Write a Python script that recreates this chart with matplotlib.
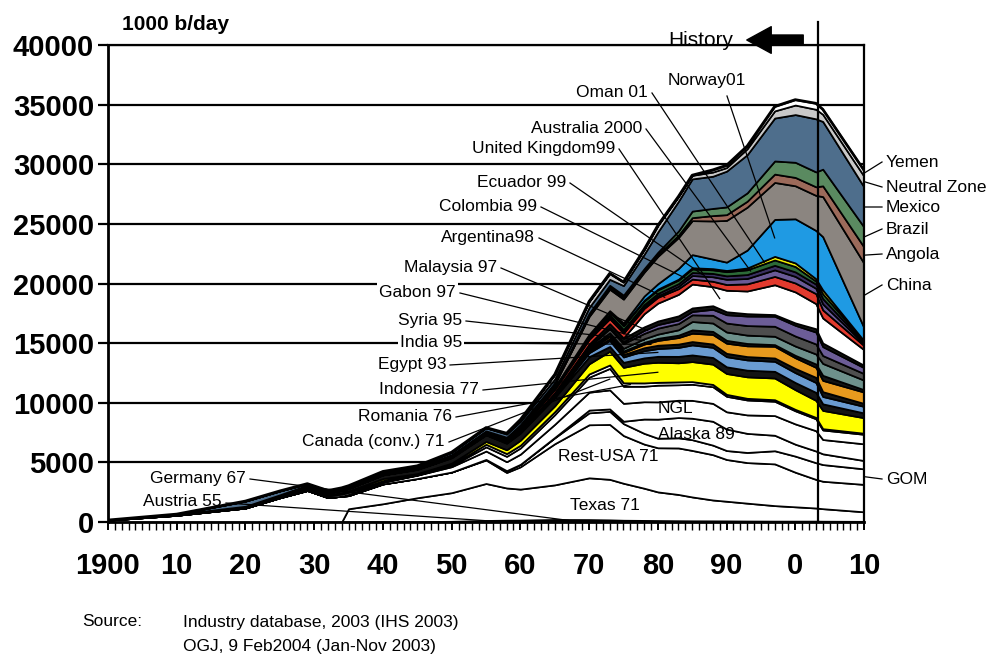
import numpy as np
import matplotlib
matplotlib.use('Agg')
import matplotlib.pyplot as plt

plt.rcParams['font.family'] = ['Liberation Sans', 'DejaVu Sans']

# ---------------- data (1000 b/day) ----------------
years = [1900, 1910, 1920, 1925, 1929, 1932, 1934, 1935, 1940, 1945, 1950, 1955, 1958, 1960,
         1965, 1970, 1973, 1975, 1978, 1980, 1983, 1985, 1988, 1990, 1993, 1997, 2000, 2003,
         2004, 2010]

austria = [0, 0, 0, 0, 0, 0, 3, 5, 10, 20, 35, 70, 55, 50, 55, 55, 50, 40, 35, 30, 25, 22, 22, 23, 22, 20, 20, 20, 18, 15]
germany = [1, 3, 1, 2, 2, 5, 7, 8, 20, 15, 25, 60, 100, 110, 160, 150, 130, 110, 100, 95, 85, 80, 75, 70, 60, 55, 55, 55, 50, 40]
texas = [0, 0, 0, 0, 0, 0, 0, 1100, 1500, 2000, 2400, 3100, 2700, 2600, 2900, 3500, 3400, 3100, 2700, 2400, 2200, 2000, 1750, 1650, 1500, 1300, 1200, 1100, 1050, 800]
rest_usa = [150, 560, 1170, 2030, 2640, 2040, 2150, 1100, 1660, 1610, 1730, 1970, 1300, 1870, 3450, 4450, 4600, 4000, 3700, 3700, 3900, 3900, 3800, 3500, 3400, 3500, 2900, 2400, 2300, 2300]
gom = [0, 0, 0, 0, 0, 0, 0, 0, 0, 0, 0, 50, 150, 200, 500, 1000, 1100, 1000, 900, 800, 850, 900, 800, 750, 850, 1100, 1350, 1400, 1400, 1300]
alaska = [0, 0, 0, 0, 0, 0, 0, 0, 0, 0, 0, 0, 0, 10, 30, 230, 200, 200, 1200, 1600, 1700, 1800, 2000, 1800, 1600, 1300, 1000, 980, 900, 700]
ngl = [0, 0, 0, 0, 0, 0, 0, 100, 150, 280, 450, 700, 750, 850, 1100, 1500, 1600, 1500, 1450, 1450, 1450, 1500, 1500, 1450, 1550, 1650, 1700, 1700, 1200, 1400]
canada = [2, 5, 1, 2, 3, 3, 4, 4, 20, 20, 80, 350, 450, 520, 810, 1260, 1800, 1430, 1300, 1400, 1300, 1350, 1400, 1300, 1250, 1200, 1100, 1000, 800, 800]
romania = [5, 25, 20, 45, 95, 145, 170, 170, 115, 95, 90, 215, 230, 230, 250, 270, 290, 290, 280, 240, 240, 220, 190, 160, 140, 130, 120, 115, 110, 90]
indonesia = [5, 30, 50, 60, 100, 100, 120, 130, 170, 20, 130, 240, 320, 420, 490, 850, 1150, 1300, 1650, 1680, 1600, 1680, 1700, 1750, 1800, 1820, 1650, 1430, 1530, 1300]
other_a = [0, 15, 50, 100, 150, 150, 200, 200, 300, 350, 450, 550, 550, 600, 700, 600, 400, 420, 450, 500, 540, 560, 560, 560, 560, 560, 600, 670, 550, 400]
egypt = [0, 3, 3, 3, 5, 5, 5, 4, 18, 25, 45, 35, 60, 70, 130, 330, 500, 450, 600, 650, 750, 840, 850, 850, 860, 840, 830, 830, 620, 550]
other_b = [0, 0, 0, 0, 0, 0, 0, 0, 5, 5, 10, 20, 30, 30, 60, 100, 150, 200, 250, 280, 280, 280, 280, 280, 280, 280, 350, 430, 400, 250]
india = [0, 5, 5, 6, 6, 6, 6, 6, 6, 6, 6, 7, 9, 9, 60, 140, 200, 180, 300, 400, 550, 700, 800, 850, 900, 980, 900, 840, 950, 950]
other_c = [0, 0, 0, 0, 0, 0, 0, 0, 0, 0, 0, 10, 10, 10, 30, 80, 100, 120, 150, 180, 200, 280, 260, 240, 200, 140, 200, 280, 420, 200]
syria = [0, 0, 0, 0, 0, 0, 0, 0, 0, 0, 0, 0, 0, 0, 0, 80, 200, 220, 300, 350, 450, 700, 700, 700, 700, 700, 780, 840, 1000, 800]
gabon = [0, 0, 0, 0, 0, 0, 0, 0, 0, 0, 0, 0, 10, 15, 25, 110, 350, 400, 450, 500, 520, 560, 650, 750, 800, 840, 840, 840, 660, 550]
malaysia = [0, 0, 0, 0, 0, 0, 0, 0, 0, 0, 0, 0, 0, 0, 5, 20, 100, 150, 250, 300, 300, 280, 500, 700, 800, 840, 900, 1000, 750, 500]
other_d = [0, 0, 5, 10, 10, 10, 10, 10, 15, 20, 30, 40, 50, 60, 100, 200, 300, 300, 300, 300, 350, 300, 300, 250, 200, 140, 200, 280, 300, 200]
uk = [0, 0, 0, 0, 0, 0, 0, 0, 0, 0, 0, 0, 0, 0, 0, 0, 10, 30, 1100, 1500, 1800, 2000, 1600, 1800, 1900, 2500, 2600, 2100, 2100, 1300]
argentina = [0, 5, 20, 20, 25, 35, 38, 40, 55, 60, 70, 85, 100, 175, 270, 390, 420, 400, 450, 490, 480, 420, 450, 480, 600, 700, 750, 840, 680, 350]
colombia = [0, 0, 0, 3, 55, 45, 48, 50, 70, 60, 95, 110, 125, 150, 200, 220, 190, 160, 140, 125, 200, 300, 380, 440, 450, 550, 550, 450, 500, 150]
ecuador = [0, 0, 0, 3, 4, 4, 5, 5, 5, 5, 7, 7, 7, 8, 8, 4, 150, 150, 180, 200, 220, 250, 280, 290, 330, 380, 380, 350, 450, 100]
australia = [0, 0, 0, 0, 0, 0, 0, 0, 0, 0, 0, 0, 0, 0, 10, 150, 250, 300, 300, 300, 300, 300, 300, 350, 400, 450, 450, 250, 400, 100]
oman = [0, 0, 0, 0, 0, 0, 0, 0, 0, 0, 0, 0, 0, 0, 0, 50, 50, 50, 60, 60, 70, 100, 100, 100, 150, 300, 300, 200, 320, 50]
norway = [0, 0, 0, 0, 0, 0, 0, 0, 0, 0, 0, 0, 0, 0, 0, 0, 30, 190, 350, 450, 900, 1100, 800, 700, 1500, 3100, 3700, 4050, 4470, 1100]
china = [0, 0, 0, 0, 0, 0, 0, 0, 0, 0, 2, 20, 50, 100, 230, 1500, 1800, 2000, 2000, 2300, 2600, 2850, 3200, 3500, 3600, 3100, 2770, 2940, 3360, 5400]
angola = [0, 0, 0, 0, 0, 0, 0, 0, 0, 0, 0, 0, 0, 1, 13, 100, 160, 160, 130, 150, 200, 250, 450, 480, 500, 700, 700, 720, 900, 1360]
brazil = [0, 0, 0, 0, 0, 0, 0, 0, 0, 1, 1, 6, 50, 80, 95, 165, 170, 175, 165, 190, 340, 550, 600, 650, 700, 1100, 1270, 1250, 1400, 1680]
mexico = [0, 10, 430, 320, 120, 90, 100, 110, 120, 120, 200, 250, 270, 270, 320, 490, 500, 800, 1200, 1700, 2500, 2700, 2700, 3000, 3200, 3600, 4000, 4450, 4000, 3360]
neutral_zone = [0, 0, 0, 0, 0, 0, 0, 0, 0, 0, 0, 20, 70, 150, 370, 500, 500, 300, 400, 550, 400, 300, 350, 300, 500, 600, 800, 800, 600, 900]
yemen = [0, 0, 0, 0, 0, 0, 0, 0, 0, 0, 0, 0, 0, 0, 0, 0, 0, 0, 0, 0, 0, 10, 180, 190, 220, 370, 450, 500, 420, 500]

layers = [
    ('Austria', austria, '#4a3f7a'),
    ('Germany', germany, '#1e1e1e'),
    ('Texas', texas, 'white'),
    ('Rest-USA', rest_usa, 'white'),
    ('GOM', gom, 'white'),
    ('Alaska', alaska, 'white'),
    ('NGL', ngl, 'white'),
    ('Canada', canada, 'white'),
    ('Romania', romania, 'white'),
    ('Indonesia', indonesia, '#ffff00'),
    ('other_a', other_a, '#141414'),
    ('Egypt', egypt, '#6a9bd1'),
    ('other_b', other_b, '#141414'),
    ('India', india, '#e89a1e'),
    ('other_c', other_c, '#141414'),
    ('Syria', syria, '#6e918c'),
    ('Gabon', gabon, '#4e4e4e'),
    ('Malaysia', malaysia, '#6c5d97'),
    ('other_d', other_d, '#141414'),
    ('UK', uk, 'white'),
    ('Argentina', argentina, '#e23a2e'),
    ('Colombia', colombia, '#6a5a96'),
    ('Ecuador', ecuador, '#3a3060'),
    ('Australia', australia, '#2c6a37'),
    ('Oman', oman, '#f0ee00'),
    ('Norway', norway, '#1f9ae3'),
    ('China', china, '#8b8580'),
    ('Angola', angola, '#9c6a5a'),
    ('Brazil', brazil, '#5a8a60'),
    ('Mexico', mexico, '#4e6e8c'),
    ('Neutral Zone', neutral_zone, '#c9c9c9'),
    ('Yemen', yemen, 'white'),
]

x_labels = ['1900', '10', '20', '30', '40', '50', '60', '70', '80', '90', '0', '10']

# ---------------- figure ----------------
W, H = 1000, 661
fig = plt.figure(figsize=(W / 100, H / 100), dpi=100)
L, R, T, B = 108, 864, 45, 522
ax = fig.add_axes([L / W, 1 - B / H, (R - L) / W, (B - T) / H])

X0, X1, Y0, Y1 = 1900, 2010, 0, 40000


def px_x(px):
    return X0 + (px - L) * (X1 - X0) / (R - L)


def px_y(py):
    return Y0 + (B - py) * (Y1 - Y0) / (B - T)


vals = [np.array(l[1], dtype=float) for l in layers]
names = [l[0] for l in layers]
ax.stackplot(years, *vals, colors=[l[2] for l in layers], edgecolor='black',
             linewidth=1.25, zorder=2)
cum = np.cumsum(np.vstack(vals), axis=0)
ax.plot(years, cum[-1], color='black', lw=2.0, zorder=3)


def mid(name, yr):
    i = names.index(name)
    hi = np.interp(yr, years, cum[i])
    lo = hi - np.interp(yr, years, vals[i])
    return (lo + hi) / 2


ax.set_xlim(X0, X1)
ax.set_ylim(Y0, Y1)
ax.set_axisbelow(True)
ax.set_yticks(np.arange(0, 40001, 5000))
ax.yaxis.grid(True, color='black', linewidth=1.6, zorder=0)
ax.set_xticks(np.arange(1900, 2011, 10))
ax.set_xticklabels(x_labels)
ax.set_xticks(np.arange(1900, 2011, 1), minor=True)
ax.tick_params(axis='y', direction='out', length=7, width=1.6, pad=3,
               labelsize=21)
ax.tick_params(axis='x', which='major', direction='out', length=5.5, width=1.4,
               pad=16, labelsize=21)
ax.tick_params(axis='x', which='minor', direction='out', length=5.5, width=1.0)
for lab in ax.get_xticklabels() + ax.get_yticklabels():
    lab.set_fontweight('bold')
for s in ['left', 'bottom']:
    ax.spines[s].set_linewidth(2.0)
for s in ['top', 'right']:
    ax.spines[s].set_linewidth(1.6)
ax.spines['top'].set_zorder(6)

# history marker
xv = px_x(818)
ax.plot([xv, xv], [0, px_y(22)], color='black', lw=1.6, zorder=6, clip_on=False)
ax.text(px_x(668), px_y(40), 'History', fontsize=15, ha='left', va='center')
ax.annotate('', xy=(px_x(744), px_y(40)), xytext=(px_x(806), px_y(40)),
            arrowprops=dict(arrowstyle='simple,head_length=1.1,head_width=1.2,tail_width=0.45',
                            color='black', mutation_scale=16),
            annotation_clip=False)

fig.text(122 / W, 1 - 25 / H, '1000 b/day', fontsize=15, fontweight='bold',
         ha='left', va='center')

FS = 12.5
box = dict(facecolor='white', edgecolor='none', pad=1.5)

# left labels with leader lines: text, right end px, y px, layer, year, white box
left_labels = [
    ('Oman 01', 648, 92, 'Oman', 1995.5, True),
    ('Australia 2000', 642, 128, 'Australia', 1993.5, True),
    ('United Kingdom99', 615, 148, 'UK', 1989, True),
    ('Ecuador 99', 566, 182, 'Ecuador', 1986.5, True),
    ('Colombia 99', 537, 206, 'Colombia', 1984.5, True),
    ('Argentina98', 535, 237, 'Argentina', 1981, True),
    ('Malaysia 97', 497, 267, 'Malaysia', 1978.5, True),
    ('Gabon 97', 456, 292, 'Gabon', 1977.5, True),
    ('Syria 95', 462, 320, 'Syria', 1978, True),
    ('India 95', 462, 342, 'India', 1979, True),
    ('Egypt 93', 446, 364, 'Egypt', 1980, True),
    ('Indonesia 77', 479, 389, 'Indonesia', 1980, True),
    ('Romania 76', 452, 416, 'Romania', 1976, True),
    ('Canada (conv.) 71', 445, 441, 'Canada', 1973, True),
    ('Germany 67', 246, 478, 'Germany', 1967, False),
    ('Austria 55', 222, 502, 'Austria', 1957, False),
]
for txt, rx, py, lay, yr, wb in left_labels:
    ax.text(px_x(rx), px_y(py), txt, fontsize=FS, ha='right', va='center',
            bbox=box if wb else None, zorder=4)
    ax.plot([px_x(rx + 4), yr], [px_y(py + 1), mid(lay, yr)], color='black',
            lw=0.9, zorder=5)

# Norway
ax.text(px_x(668), px_y(80), 'Norway01', fontsize=FS, ha='left', va='center',
        bbox=box, zorder=4)
ax.plot([px_x(727), 1997], [px_y(96), mid('Norway', 1997)], color='black', lw=0.9, zorder=5)

# labels placed on layers
for txt, lx, py in [('NGL', 658, 408), ('Alaska 89', 658, 434),
                    ('Rest-USA 71', 558, 456), ('Texas 71', 570, 505)]:
    ax.text(px_x(lx), px_y(py), txt, fontsize=FS, ha='left', va='center', zorder=5)

# right labels
right_labels = [('Yemen', 162, 'Yemen'), ('Neutral Zone', 187, 'Neutral Zone'),
                ('Mexico', 207, 'Mexico'), ('Brazil', 229, 'Brazil'),
                ('Angola', 254, 'Angola'), ('China', 285, 'China'), ('GOM', 479, 'GOM')]
for txt, py, lay in right_labels:
    ax.text(px_x(886), px_y(py), txt, fontsize=FS, ha='left', va='center')
    ax.plot([X1, px_x(882)], [mid(lay, X1), px_y(py)], color='black', lw=0.9,
            clip_on=False, zorder=5)

# source
fig.text(82 / W, 1 - 622 / H, 'Source:', fontsize=12.5, ha='left', va='center')
fig.text(183 / W, 1 - 622 / H, 'Industry database, 2003 (IHS 2003)', fontsize=12.5,
         ha='left', va='center')
fig.text(183 / W, 1 - 646 / H, 'OGJ, 9 Feb2004 (Jan-Nov 2003)', fontsize=12.5,
         ha='left', va='center')

fig.savefig('out.png', dpi=100)
